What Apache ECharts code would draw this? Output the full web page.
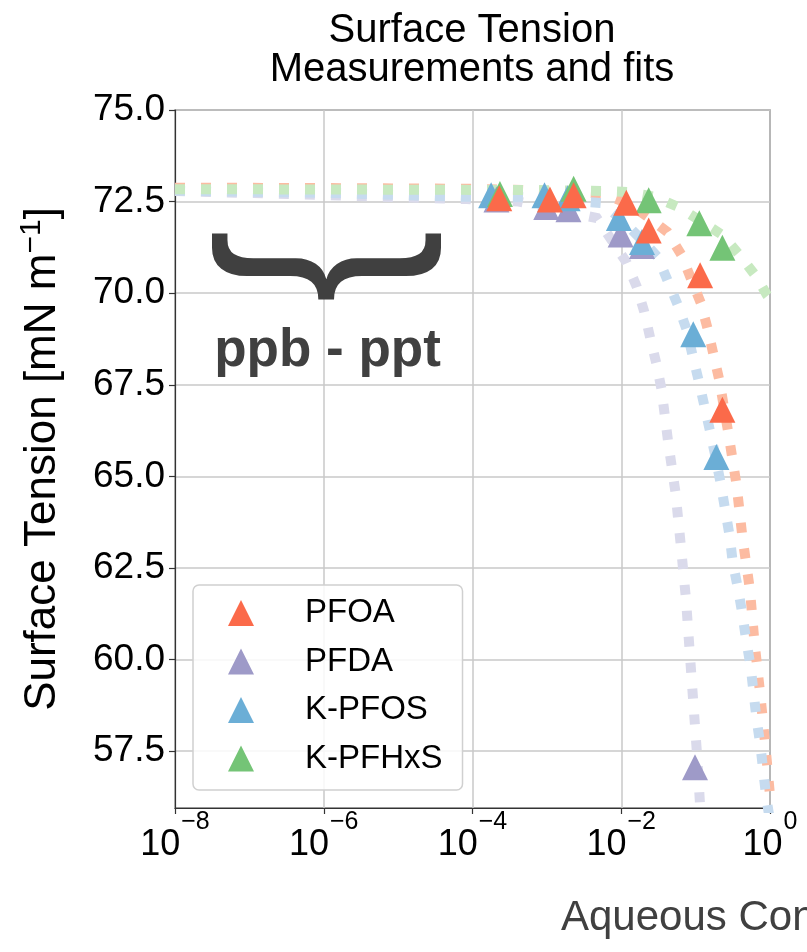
<!DOCTYPE html>
<html><head><meta charset="utf-8">
<script src="https://cdn.jsdelivr.net/npm/echarts@6/dist/echarts.min.js"></script>
<style>html,body{margin:0;padding:0;background:#fff}#c{width:807px;height:952px}</style>
</head><body><div id="c"></div>
<script>
// ---- data ----
const seriesNames = ['PFOA', 'PFDA', 'K-PFOS', 'K-PFHxS'];
const markerColors = ['#fb6a4a', '#9e9ac8', '#6baed6', '#74c476'];
const fitColors = ['#fcbba1', '#dadaeb', '#c6dbef', '#c7e9c0'];
const yTicks = [57.5, 60, 62.5, 65, 67.5, 70, 72.5, 75];
const xTicks = [1e-8, 1e-6, 1e-4, 1e-2, 1];

// measurements [concentration, surface tension]
const pfoaMeas = [[2.29e-4, 72.59], [1.1e-3, 72.56], [2.29e-3, 72.67], [1.17e-2, 72.47], [2.34e-2, 71.71], [0.115, 70.49], [0.229, 66.82]];
const pfdaMeas = [[2.1e-4, 72.56], [9.8e-4, 72.35], [1.95e-3, 72.29], [9.8e-3, 71.6], [1.9e-2, 71.29], [9.8e-2, 57.06]];
const pfosMeas = [[1.78e-4, 72.67], [9.3e-4, 72.67], [1.9e-3, 72.59], [9.3e-3, 72.05], [1.9e-2, 71.4], [9.3e-2, 68.88], [0.19, 65.53]];
const pfhxsMeas = [[2.34e-4, 72.71], [2.29e-3, 72.85], [2.34e-2, 72.54], [0.112, 71.91], [0.229, 71.24]];

// fitted curves
const pfoaFit = [[1e-8, 72.88], [1e-6, 72.87], [8.3e-5, 72.85], [4.7e-4, 72.82], [5.5e-3, 72.72], [1.26e-2, 72.45], [2.29e-2, 72.08], [4.17e-2, 71.67], [6.46e-2, 71.04], [0.117, 69.74], [0.145, 69.03], [0.174, 68.32], [0.209, 67.61], [0.275, 66.19], [0.355, 64.77], [0.427, 63.32], [0.537, 61.91], [0.617, 60.49], [0.741, 59.04], [0.871, 57.60], [1.0, 56.3]];
const pfdaFit = [[1e-8, 72.79], [1e-6, 72.68], [1e-5, 72.62], [8.3e-5, 72.57], [4.2e-4, 72.50], [4.7e-3, 72.05], [7.4e-3, 71.45], [1.17e-2, 70.85], [1.62e-2, 70.17], [2.04e-2, 69.49], [2.45e-2, 68.78], [2.95e-2, 68.10], [3.47e-2, 67.39], [4.27e-2, 65.94], [5.37e-2, 64.55], [6.31e-2, 63.13], [7.41e-2, 61.66], [8.32e-2, 60.22], [9.33e-2, 58.80], [0.105, 57.35], [0.115, 55.99], [0.12, 55.5]];
const pfosFit = [[1e-8, 72.80], [1e-6, 72.74], [8.3e-5, 72.63], [4.7e-4, 72.62], [5.5e-3, 72.46], [1.02e-2, 72.0], [1.8e-2, 71.5], [3.09e-2, 70.99], [4.17e-2, 70.36], [5.75e-2, 69.68], [7.59e-2, 69.00], [9.12e-2, 68.29], [0.11, 67.61], [0.132, 66.90], [0.158, 66.19], [0.186, 65.51], [0.219, 64.77], [0.251, 64.06], [0.288, 63.35], [0.316, 62.64], [0.372, 61.93], [0.427, 61.22], [0.479, 60.52], [0.55, 59.81], [0.603, 59.07], [0.661, 58.36], [0.741, 57.68], [0.813, 56.94], [0.891, 56.24], [1.0, 55.6]];
const pfhxsFit = [[1e-8, 72.84], [1e-6, 72.83], [9.3e-5, 72.82], [4.8e-4, 72.82], [5.5e-3, 72.79], [1.23e-2, 72.76], [2.82e-2, 72.63], [5.89e-2, 72.35], [0.117, 71.97], [0.229, 71.59], [0.398, 71.02], [0.661, 70.44], [0.912, 69.95], [1.0, 69.85]];

const measAll = [pfoaMeas, pfdaMeas, pfosMeas, pfhxsMeas];
const fitAll = [pfoaFit, pfdaFit, pfosFit, pfhxsFit];

// ---- chart ----
const chart = echarts.init(document.getElementById('c'), null, {renderer: 'canvas'});
const FONT = '"Liberation Sans", Arial, sans-serif';

const series = [];
fitAll.forEach((d, i) => {
  series.push({
    name: seriesNames[i] + ' fit', type: 'line', data: d, showSymbol: false, symbol: 'none',
    silent: true, clip: true, z: 2,
    lineStyle: {color: fitColors[i], width: 10, type: [10, 16], cap: 'butt', join: 'miter'}
  });
});
[1, 2, 3, 0].forEach(i => {
  series.push({
    name: seriesNames[i], type: 'scatter', data: measAll[i], symbol: 'triangle', symbolSize: 26,
    silent: true, z: 3, itemStyle: {color: markerColors[i], opacity: 1}
  });
});

chart.setOption({
  animation: false,
  backgroundColor: '#fff',
  title: {
    text: 'Surface Tension\nMeasurements and fits', left: 472, top: 11, padding: 0, textAlign: 'center',
    textStyle: {fontFamily: FONT, fontSize: 40, fontWeight: 'normal', color: '#000', lineHeight: 39}
  },
  grid: {left: 175, right: 37, top: 110, bottom: 144, show: true, borderColor: '#333', borderWidth: 1.2,
    containLabel: false, outerBoundsMode: 'none'},
  legend: {
    data: seriesNames, orient: 'vertical', left: 193, top: 585, padding: [11.5, 20, 15, 35],
    itemWidth: 26, itemHeight: 26, itemGap: 15.5, selectedMode: false,
    backgroundColor: 'rgba(255,255,255,0.85)', borderColor: '#d0d0d0', borderWidth: 1.5, borderRadius: 6,
    textStyle: {fontFamily: FONT, fontSize: 33, lineHeight: 33, color: '#000', padding: [0, 0, 0, 46]}
  },
  xAxis: {
    type: 'log', logBase: 10, min: 1e-8, max: 1, interval: 2,
    axisLine: {show: true, lineStyle: {color: '#333', width: 1.2}},
    axisTick: {show: true, length: 6, lineStyle: {color: '#333', width: 1.2}},
    minorTick: {show: false},
    splitLine: {show: true, lineStyle: {color: '#c8c8c8', width: 1.5}},
    axisLabel: {
      margin: 19, showMinLabel: true, showMaxLabel: true,
      formatter: v => {
        const e = Math.round(Math.log10(v));
        return '{b|10}{s|' + (e < 0 ? '\u2212' : '') + Math.abs(e) + '}';
      },
      rich: {
        b: {fontFamily: FONT, fontSize: 36, lineHeight: 36, color: '#000', verticalAlign: 'bottom'},
        s: {fontFamily: FONT, fontSize: 25, lineHeight: 25, color: '#000', verticalAlign: 'bottom', padding: [0, 0, 28, 1]}
      }
    }
  },
  yAxis: {
    type: 'value', min: 55.95, max: 75,
    name: '{a|Surface Tension [mN m}{s|\u22121}{a|]}', nameLocation: 'middle', nameRotate: 90, nameGap: 110,
    nameTextStyle: {
      rich: {
        a: {fontFamily: FONT, fontSize: 44, lineHeight: 46, color: '#000', verticalAlign: 'bottom'},
        s: {fontFamily: FONT, fontSize: 30, lineHeight: 30, color: '#000', verticalAlign: 'bottom', padding: [0, 0, 18, 0]}
      }
    },
    axisLine: {show: true, lineStyle: {color: '#333', width: 1.2}},
    axisTick: {show: true, length: 6, customValues: yTicks, lineStyle: {color: '#333', width: 1.2}},
    splitLine: {show: true, lineStyle: {color: '#c8c8c8', width: 1.5}},
    axisLabel: {customValues: yTicks, margin: 10, fontFamily: FONT, fontSize: 37, color: '#000',
      formatter: v => v.toFixed(1)}
  },
  graphic: [
    {type: 'text', x: 331, y: 266.5, rotation: -Math.PI / 2, scaleX: 0.9, z: 100,
      style: {text: '}', font: '245px "Liberation Sans"', fill: '#404040', align: 'center', verticalAlign: 'middle', textAlign: 'center', textVerticalAlign: 'middle'}},
    {type: 'text', x: 327.5, y: 351, z: 100,
      style: {text: 'ppb - ppt', font: 'bold 53px "Liberation Sans"', fill: '#404040', align: 'center', verticalAlign: 'middle', textAlign: 'center', textVerticalAlign: 'middle'}},
    {type: 'text', x: 561, y: 918, z: 100,
      style: {text: 'Aqueous Concentration', font: '42px "Liberation Sans"', fill: '#404040', align: 'left', verticalAlign: 'middle', textAlign: 'left', textVerticalAlign: 'middle'}}
  ],
  series: series
});
</script></body></html>
